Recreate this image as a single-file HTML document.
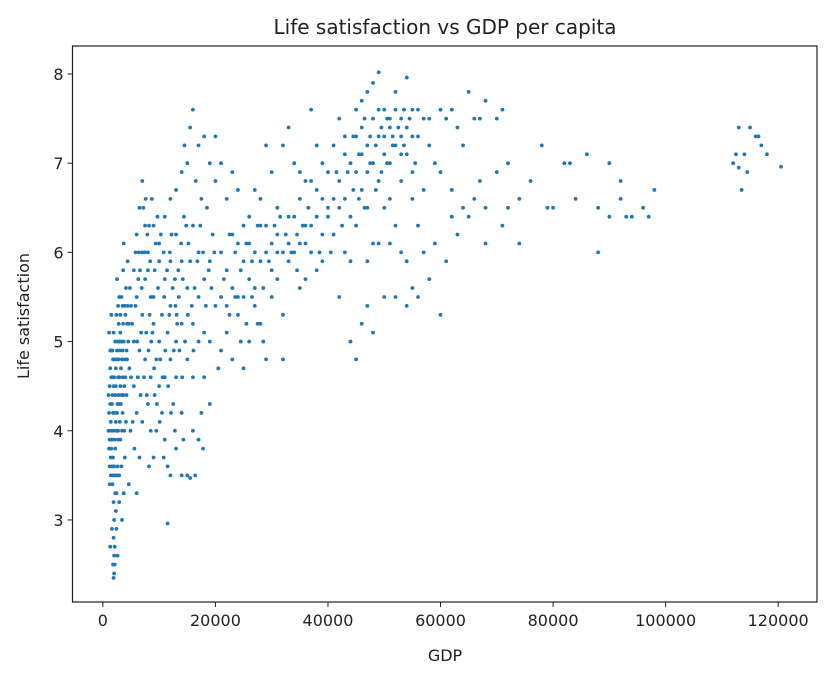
<!DOCTYPE html>
<html><head><meta charset="utf-8"><style>
body{margin:0;background:#fff;}
svg text{font-family:"DejaVu Sans","Liberation Sans",sans-serif;fill:#222;}
</style></head><body>
<svg id="chart" width="832" height="680" viewBox="0 0 832 680" xmlns="http://www.w3.org/2000/svg">
<rect width="832" height="680" fill="#fff"/>
<text x="445" y="34" font-size="20" text-anchor="middle">Life satisfaction vs GDP per capita</text>
<g id="points"></g>
<g id="axes"></g>
<text x="445" y="661" font-size="16" text-anchor="middle">GDP</text>
<text x="0" y="0" font-size="16" text-anchor="middle" transform="translate(29,316) rotate(-90)">Life satisfaction</text>
</svg>
<script>
const xTicks=[0,20000,40000,60000,80000,100000,120000];
const xTickLabels=["0","20000","40000","60000","80000","100000","120000"];
const yTicks=[3,4,5,6,7,8];
const yTickLabels=["3","4","5","6","7","8"];
// samples: [GDP in thousands, life satisfaction]
const samples=[
[1.2,4.5],[1.5,3.8],[1.8,4.2],[2.0,2.4],[2.1,2.7],[1.6,2.9],[2.3,3.1],[2.5,3.5],[1.4,3.7],[1.9,4.0],[2.2,4.4],[2.7,4.6],[3.0,4.9],[1.1,5.1],[1.3,4.7],[2.8,5.2],[3.3,5.5],[3.6,5.8],[4.0,5.3],[4.3,4.8],[3.8,4.5],[3.5,4.2],[3.1,3.9],[2.6,3.6],[2.4,3.3],[1.7,3.4],[1.0,4.0],[1.2,3.6],[2.9,4.3],[3.2,4.7],[4.5,5.0],[4.8,5.6],[5.0,4.6],[4.1,4.1],[3.4,3.0],[2.0,2.6],[2.6,2.6],[1.3,2.7],[4.6,3.4],[3.9,3.7],[2.2,5.0],[1.5,5.3],[2.5,5.7],[3.7,6.1],[4.4,5.9],[1.8,4.8],[2.3,4.1],[2.9,3.5],[1.0,4.4],[3.0,5.0],[2.0,4.6],[1.6,4.3],[3.5,4.9],[4.2,4.4],[2.7,4.0],[1.9,3.2],[3.3,3.6],[2.4,5.3],[3.6,5.2],[4.9,4.0],
[1.4,4.1],[1.7,4.6],[2.1,3.9],[2.4,4.8],[2.8,4.4],[3.1,4.5],[1.2,3.9],[1.8,3.7],[2.2,3.5],[3.4,4.0],[3.9,4.8],[4.7,4.7],[1.5,4.9],[2.6,5.0],[2.1,2.5],[1.9,2.8],[2.9,3.2],[3.7,3.3],
[1.1,4.2],[1.3,4.3],[1.5,4.6],[1.7,4.9],[1.9,5.1],[2.1,4.8],[2.3,4.5],[2.5,4.2],[2.7,3.9],[2.9,4.6],[3.1,5.1],[3.3,4.4],[3.5,4.6],[3.7,5.0],[3.9,5.4],[4.1,5.6],[4.3,5.2],[1.2,3.4],[1.4,3.5],[1.6,3.9],[2.0,3.6],[2.2,3.8],[2.4,4.0],[2.6,4.3],[2.8,4.8],[3.0,4.1],[3.2,4.3],[3.4,4.8],[3.6,4.4],[3.8,4.0],[4.0,4.6],[4.2,4.9],[4.4,5.4],[4.6,5.2],[1.1,3.8],[1.3,4.9],[1.5,4.0],[1.7,4.4],[1.9,4.5],[2.1,4.2],[2.3,4.7],[2.5,4.9],[2.7,5.4],[2.9,5.5],[3.1,5.3],[3.3,5.0],[3.5,5.4],[1.6,3.6],[1.8,3.5],[2.2,3.3],[2.0,3.0],[2.4,2.9],[1.8,2.5],[1.9,2.35],
[5.5,5.8],[6,6.2],[6.5,6.5],[7,6.8],[7.5,6.3],[8,6.0],[8.5,5.5],[9,5.2],[9.5,4.8],[10,4.5],[10.5,4.2],[11,3.9],[11.5,3.6],[12,3.5],[11.5,2.96],[13,3.8],[14,3.5],[15,3.5],[15.5,3.47],[16,4.0],[17,3.9],[17.5,4.2],[18,4.6],[19,5.0],[6,4.2],[6.5,4.9],[7,5.3],[7.5,5.7],[8,4.3],[8.5,4.0],[9,3.7],[6,3.3],[6.5,3.7],[7,4.1],[5.5,5.0],[9,6.3],[10,6.1],[11,6.4],[12,6.6],[13,6.7],[14,6.9],[14.5,7.2],[15,7.0],[15.5,7.4],[16,7.6],[17,7.2],[18,7.3],[19,7.0],[20,7.3],[16,6.3],[17,6.0],[18,5.7],[19,5.9],[20,5.4],[13,5.0],[12,5.4],[11,5.7],[10,5.9],[13,4.6],[14,4.2],[15,4.8],[16,5.2],[17,5.5],[15,5.6],[14,5.9],[13,6.2],[12,4.8],[10,5.0],[9,5.5],[8,5.8],[7,6.0],[6,5.5],[10.5,5.3],[11.5,5.1],[12.5,4.3],[9.5,4.0],[8.5,4.6],[7.5,4.8],[18.5,6.5],[19.5,6.2],[20,6.8],[16.5,6.8],[17.5,6.6],[12,5.9],[14,5.2],[16,4.6],[18,5.1],[5,5.4],[5.5,4.5],[6.8,5.1],[8.8,5.1],[11,4.6],[13.5,5.5],[15.5,5.9],[17,5.0],[19,4.3],
[5.8,6.0],[7.2,6.5],[8.2,6.3],[9.8,5.6],[10.8,6.0],[12.8,5.7],[14.8,6.3],[6.2,4.6],[7.8,4.4],[9.2,4.4],[10.2,4.8],[11.8,5.3],[13.2,5.2],[14.2,5.7],[8.3,5.3],[6.6,5.8],[12.2,6.2],
[5.2,5.2],[5.8,5.4],[6.3,5.7],[6.9,5.6],[7.4,6.0],[7.9,6.2],[8.4,5.9],[9.2,5.8],[9.7,6.4],[10.3,6.2],[10.9,5.5],[11.4,5.8],[11.9,6.0],[12.4,5.6],[12.9,5.4],[13.4,5.8],[13.9,6.1],[14.4,6.4],[15.2,6.1],[15.8,5.4],[16.3,5.6],[16.8,5.9],[17.3,6.3],[17.8,6.0],[18.3,5.4],[18.8,5.8],[19.3,5.6],[19.8,6.0],[6.1,5.0],[6.7,4.4],[7.3,4.6],[7.7,5.1],[8.1,4.9],[8.6,5.0],[9.1,4.7],[9.6,4.3],[10.1,4.1],[10.6,4.6],[11.1,4.9],[11.6,4.5],[12.1,4.2],[12.6,4.9],[13.1,5.3],[13.6,4.9],[14.1,4.6],[14.6,5.0],[15.1,5.3],[16.1,4.9],[6.4,6.0],[7.6,6.6],[8.7,6.6],[9.4,6.1],[5.3,4.1],[5.6,3.8],[8.2,3.6],[10.8,3.7],[12.8,4.0],[14.3,3.9],[17.8,3.8],[16.4,3.5],
[21,6.0],[22,5.8],[23,6.2],[24,5.5],[25,5.9],[26,6.4],[27,6.7],[28,6.3],[29,6.0],[30,6.1],[31,6.5],[32,7.2],[33,7.4],[34,7.0],[35,6.6],[36,6.3],[37,6.8],[38,7.2],[39,7.0],[40,6.5],[21,4.9],[22,5.1],[23,4.8],[24,5.3],[25,4.7],[26,5.0],[27,5.4],[28,5.2],[29,4.8],[30,5.5],[31,5.7],[32,5.3],[33,5.9],[34,6.0],[35,5.6],[36,5.7],[37,6.0],[38,5.8],[39,6.2],[40,6.4],[22,6.6],[23,6.9],[24,6.7],[25,6.3],[26,5.7],[27,5.6],[28,5.9],[29,7.2],[30,6.9],[31,6.2],[33,6.4],[35,6.1],[36,6.8],[37,7.6],[38,6.4],[39,5.9],[21,5.5],[22,5.4],[24,6.1],[26,6.1],[28,6.6],[30,5.8],[32,6.0],[34,6.4],[36,6.1],[38,6.7],[40,6.9],[42,5.5],[21,7.0],[23,5.6],[25,5.5],[27,6.0],[29,6.3],[31,6.0],[33,6.1],[35,6.9],[37,6.3],[39,6.6],[20.5,4.7],[32,4.8],
[22.5,6.2],[23.5,6.0],[24.5,5.8],[25.5,6.1],[26.5,5.9],[27.5,6.3],[28.5,5.6],[29.5,5.9],[30.5,6.3],[31.5,6.4],[32.5,6.2],[33.5,6.0],[34.5,5.8],[35.5,6.3],[21.5,5.7],[22.5,5.3],[23.5,5.5],[24.5,5.0],[25.5,5.2],[26.5,5.5],[27.5,5.2],[28.5,5.0],
[41,7.2],[42,7.5],[43,7.3],[44,7.0],[45,7.6],[46,7.4],[47,7.8],[48,7.9],[49,8.02],[50,7.6],[51,7.4],[52,7.2],[53,7.5],[54,7.96],[55,7.6],[56,7.3],[57,7.5],[58,7.2],[42,6.8],[43,6.6],[44,6.4],[45,6.9],[46,7.1],[47,7.2],[48,7.0],[49,7.3],[50,7.1],[51,7.0],[52,7.6],[53,7.3],[54,7.1],[55,6.9],[41,6.2],[42,6.5],[43,6.0],[44,5.9],[45,6.3],[46,6.7],[47,6.5],[48,6.1],[49,6.8],[50,6.5],[51,6.1],[52,6.3],[53,6.0],[54,5.9],[55,5.6],[56,6.3],[57,6.0],[44,5.0],[45,4.8],[46,5.2],[47,5.4],[48,5.1],[50,5.5],[52,5.5],[54,5.4],[56,5.5],[58,5.7],[60,5.3],[59,6.1],[46,7.7],[48,7.5],[50,7.3],[52,7.8],[54,7.4],[56,7.6],[47,6.9],[49,7.6],[51,7.5],[53,7.1],[55,7.3],[43,7.1],[41,6.6],[45,7.3],[47,5.9],[49,6.1],[51,6.6],[53,6.8],[55,6.6],[57,6.7],[58,7.5],
[44.5,7.3],[45.5,7.1],[46.5,7.5],[47.5,7.3],[48.5,7.2],[49.5,7.4],[50.5,7.5],[51.5,7.3],[52.5,7.4],[53.5,7.2],[54.5,7.5],[50.5,7.0],[48.5,6.7],[46.5,6.5],[44.5,6.7],[42.5,6.3],[40.5,6.0],[38.5,6.0],[36.5,6.5],[34.5,6.2],[41.5,6.9],[43.5,6.9],[45.5,6.6],[47.5,7.0],[49.5,6.9],[51.5,7.2],[53.5,7.6],[55.5,7.0],
[60,7.6],[61,7.5],[62,7.6],[63,7.4],[64,7.2],[65,7.8],[66,7.5],[67,7.5],[68,7.7],[70,7.5],[71,7.6],[59,7.0],[60,6.9],[62,6.7],[64,6.5],[66,6.6],[68,6.5],[70,6.9],[72,7.0],[74,6.6],[76,6.8],[78,7.2],[80,6.5],[82,7.0],[84,6.6],[86,7.1],[88,6.5],[90,7.0],[92,6.8],[94,6.4],[96,6.5],[98,6.7],[62,6.4],[65,6.4],[68,6.1],[71,6.3],[74,6.1],[88,6.0],[90,6.4],[93,6.4],[97,6.4],[61,5.9],[63,6.2],[72,6.5],[67,6.8],[79,6.5],[83,7.0],[92,6.6],
[112,7.0],[113,7.4],[113.5,6.7],[114,7.1],[115,7.4],[116,7.3],[117,7.2],[118,7.1],[120.5,6.96],[112.5,7.1],[114.5,6.9],[116.5,7.3],[113,6.95]
];
const L=72.5,R=817,T=46,B=602;
const xMin=-5400,xMax=126900,yMin=2.08,yMax=8.314;
const xS=v=>L+(v-xMin)/(xMax-xMin)*(R-L);
const yS=v=>B-(v-yMin)/(yMax-yMin)*(B-T);
const NS="http://www.w3.org/2000/svg";
const pg=document.getElementById('points');
samples.forEach((s,i)=>{
  const c=document.createElementNS(NS,'circle');
  c.setAttribute('cx',xS(s[0]*1000));c.setAttribute('cy',yS(s[1]));
  c.setAttribute('r',1.9);c.setAttribute('fill','#1f77b4');
  
  
  pg.appendChild(c);
});
const ag=document.getElementById('axes');
const fr=document.createElementNS(NS,'rect');
fr.setAttribute('x',L);fr.setAttribute('y',T);fr.setAttribute('width',R-L);fr.setAttribute('height',B-T);
fr.setAttribute('fill','none');fr.setAttribute('stroke','#222');fr.setAttribute('stroke-width','1.2');


ag.appendChild(fr);
xTicks.forEach((v,i)=>{
  const x=xS(v);
  const l=document.createElementNS(NS,'line');
  l.setAttribute('x1',x);l.setAttribute('x2',x);l.setAttribute('y1',B);l.setAttribute('y2',B+5);l.setAttribute('stroke','#222');
  
  
  ag.appendChild(l);
  const t=document.createElementNS(NS,'text');
  t.setAttribute('x',x);t.setAttribute('y',B+24);t.setAttribute('font-size','16');t.setAttribute('text-anchor','middle');
  t.textContent=xTickLabels[i];
  
  
  ag.appendChild(t);
});
yTicks.forEach((v,i)=>{
  const y=yS(v);
  const l=document.createElementNS(NS,'line');
  l.setAttribute('x1',L-5);l.setAttribute('x2',L);l.setAttribute('y1',y);l.setAttribute('y2',y);l.setAttribute('stroke','#222');
  
  
  ag.appendChild(l);
  const t=document.createElementNS(NS,'text');
  t.setAttribute('x',L-9);t.setAttribute('y',y+6);t.setAttribute('font-size','16');t.setAttribute('text-anchor','end');
  t.textContent=yTickLabels[i];
  
  
  ag.appendChild(t);
});
</script>
</body></html>
